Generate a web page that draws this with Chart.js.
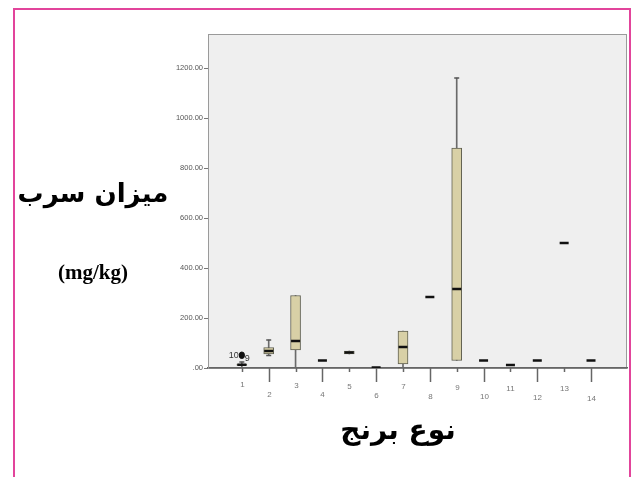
<!DOCTYPE html>
<html>
<head>
<meta charset="utf-8">
<script src="https://cdn.jsdelivr.net/npm/chart.js@4.4.1/dist/chart.umd.min.js"></script>
<style>
  html, body { margin: 0; padding: 0; background: #ffffff; }
  canvas { display: block; }
</style>
</head>
<body>
<canvas id="c" width="636" height="477"></canvas>
<script>
// Rice types on the x axis
const categories = [1, 2, 3, 4, 5, 6, 7, 8, 9, 10, 11, 12, 13, 14];
// Box-plot summary of lead content (mg/kg) per rice type
const lowWhisker  = [0, 50, 0, 30, 56, 2, 0, 284, 30, 30, 12, 30, 500, 30];
const q1          = [10, 56, 72, 30, 56, 2, 16, 284, 30, 30, 12, 30, 500, 30];
const median      = [13, 68, 108, 30, 62, 2, 84, 284, 316, 30, 12, 30, 500, 30];
const q3          = [16, 82, 290, 30, 68, 2, 148, 284, 880, 30, 12, 30, 500, 30];
const highWhisker = [24, 112, 290, 30, 68, 2, 148, 284, 1160, 30, 12, 30, 500, 30];
// Outlying cases
const outlierCategory = [1, 1];
const outlierValue = [54, 48];
const outlierCase = ['10', '9'];
// Axis ticks
const yTicks = [0, 200, 400, 600, 800, 1000, 1200];
const yTitle = 'میزان سرب';
const yUnit = '(mg/kg)';
const xTitle = 'نوع برنج';

const boxData = [], whiskerData = [], medianData = [], capData = [];
categories.forEach((c, i) => {
  if (q3[i] > q1[i]) boxData.push({ x: c, y: [q1[i], q3[i]] });
  if (highWhisker[i] > lowWhisker[i]) whiskerData.push({ x: c, y: [lowWhisker[i], highWhisker[i]] });
  medianData.push({ x: c, y: median[i] });
  if (highWhisker[i] > q3[i]) capData.push({ x: c, y: highWhisker[i] });
  if (lowWhisker[i] < q1[i] && lowWhisker[i] > 0) capData.push({ x: c, y: lowWhisker[i] });
});
const outlierData = outlierCategory.map((c, i) => ({ x: c, y: outlierValue[i] }));

const decor = {
  id: 'decor',
  beforeDraw(chart) {
    const { ctx, chartArea: a } = chart;
    ctx.save();
    ctx.fillStyle = '#ffffff';
    ctx.fillRect(0, 0, chart.width, chart.height);
    // pink page frame
    ctx.strokeStyle = '#e2449b';
    ctx.lineWidth = 2;
    ctx.beginPath();
    ctx.moveTo(14, 477);
    ctx.lineTo(14, 9);
    ctx.lineTo(630, 9);
    ctx.lineTo(630, 477);
    ctx.stroke();
    // plot panel
    ctx.fillStyle = '#efefef';
    ctx.fillRect(a.left, a.top, a.right - a.left, a.bottom - a.top);
    ctx.strokeStyle = '#9a9a9a';
    ctx.lineWidth = 1;
    ctx.strokeRect(a.left + 0.5, a.top + 0.5, a.right - a.left - 1, a.bottom - a.top);
    ctx.restore();
  },
  afterDraw(chart) {
    const { ctx, chartArea: a } = chart;
    const xs = chart.scales.x, ys = chart.scales.y;
    ctx.save();
    // staggered x tick marks and labels
    ctx.strokeStyle = '#666';
    ctx.lineWidth = 1.5;
    ctx.fillStyle = '#777';
    ctx.font = '8px "Liberation Sans", Arial, sans-serif';
    ctx.textAlign = 'center';
    ctx.textBaseline = 'middle';
    categories.forEach((c, i) => {
      const px = Math.round(xs.getPixelForValue(c)) + 0.5;
      const even = c % 2 === 0;
      const len = even ? 14 : 4;
      ctx.beginPath();
      ctx.moveTo(px, a.bottom);
      ctx.lineTo(px, a.bottom + len);
      ctx.stroke();
      ctx.fillText(String(c), px, a.bottom + (even ? 26 : 17) + i * 0.35);
    });
    // outlier case labels
    ctx.fillStyle = '#333';
    ctx.font = '9px "Liberation Sans", Arial, sans-serif';
    outlierCategory.forEach((c, i) => {
      const px = xs.getPixelForValue(c), py = ys.getPixelForValue(outlierValue[i]);
      if (i === 0) { ctx.textAlign = 'right'; ctx.fillText(outlierCase[i], px - 3, py + 1); }
      else { ctx.textAlign = 'left'; ctx.fillText(outlierCase[i], px + 3, py + 3); }
    });
    // axis titles
    ctx.fillStyle = '#000';
    ctx.textAlign = 'center';
    ctx.font = 'bold 26px "DejaVu Sans", sans-serif';
    ctx.fillText(yTitle, 93, 195);
    ctx.font = 'bold 21px "Liberation Serif", "Times New Roman", serif';
    ctx.fillText(yUnit, 93, 274);
    ctx.font = 'bold 28px "DejaVu Sans", sans-serif';
    ctx.fillText(xTitle, 398, 432);
    ctx.restore();
  }
};

new Chart(document.getElementById('c'), {
  type: 'bar',
  data: {
    datasets: [
      { type: 'bar', data: whiskerData, grouped: false, barThickness: 1, backgroundColor: '#6a6a6a', borderWidth: 0, order: 4 },
      { type: 'bar', data: boxData, grouped: false, barThickness: 10, backgroundColor: '#d8d0a6', borderColor: '#5f5f50', borderWidth: 1, borderSkipped: false, order: 3 },
      { type: 'scatter', data: capData, pointStyle: 'line', pointRadius: 2.5, borderColor: '#555', borderWidth: 1.5, order: 2 },
      { type: 'scatter', data: medianData, pointStyle: 'line', pointRadius: 4.5, borderColor: '#111', borderWidth: 2.5, order: 1 },
      { type: 'scatter', data: outlierData, pointStyle: 'circle', pointRadius: 2.5, backgroundColor: '#111', borderColor: '#111', borderWidth: 1, order: 0 }
    ]
  },
  options: {
    responsive: false,
    animation: false,
    events: [],
    layout: { padding: { left: 158, top: 34, right: 9, bottom: 79 } },
    plugins: { legend: { display: false }, tooltip: { enabled: false } },
    scales: {
      x: {
        type: 'linear',
        min: -0.26,
        max: 15.34,
        offset: false,
        afterFit(scale) { scale.height = 30; },
        border: { display: true, color: '#666', width: 1.5 },
        grid: { display: false, offset: false },
        ticks: { display: false, stepSize: 1, includeBounds: false }
      },
      y: {
        type: 'linear',
        min: 0,
        max: 1336,
        afterFit(scale) { scale.width = 50; },
        afterBuildTicks(scale) { scale.ticks = yTicks.map(v => ({ value: v })); },
        border: { display: true, color: '#9a9a9a', width: 1 },
        grid: { drawOnChartArea: false, drawTicks: true, tickLength: 4, color: '#777' },
        ticks: {
          padding: 1,
          color: '#555',
          font: { size: 7.5, family: '"Liberation Sans", Arial, sans-serif' },
          callback(v) { return v === 0 ? '.00' : v.toFixed(2); }
        }
      }
    }
  },
  plugins: [decor]
});
</script>
</body>
</html>
